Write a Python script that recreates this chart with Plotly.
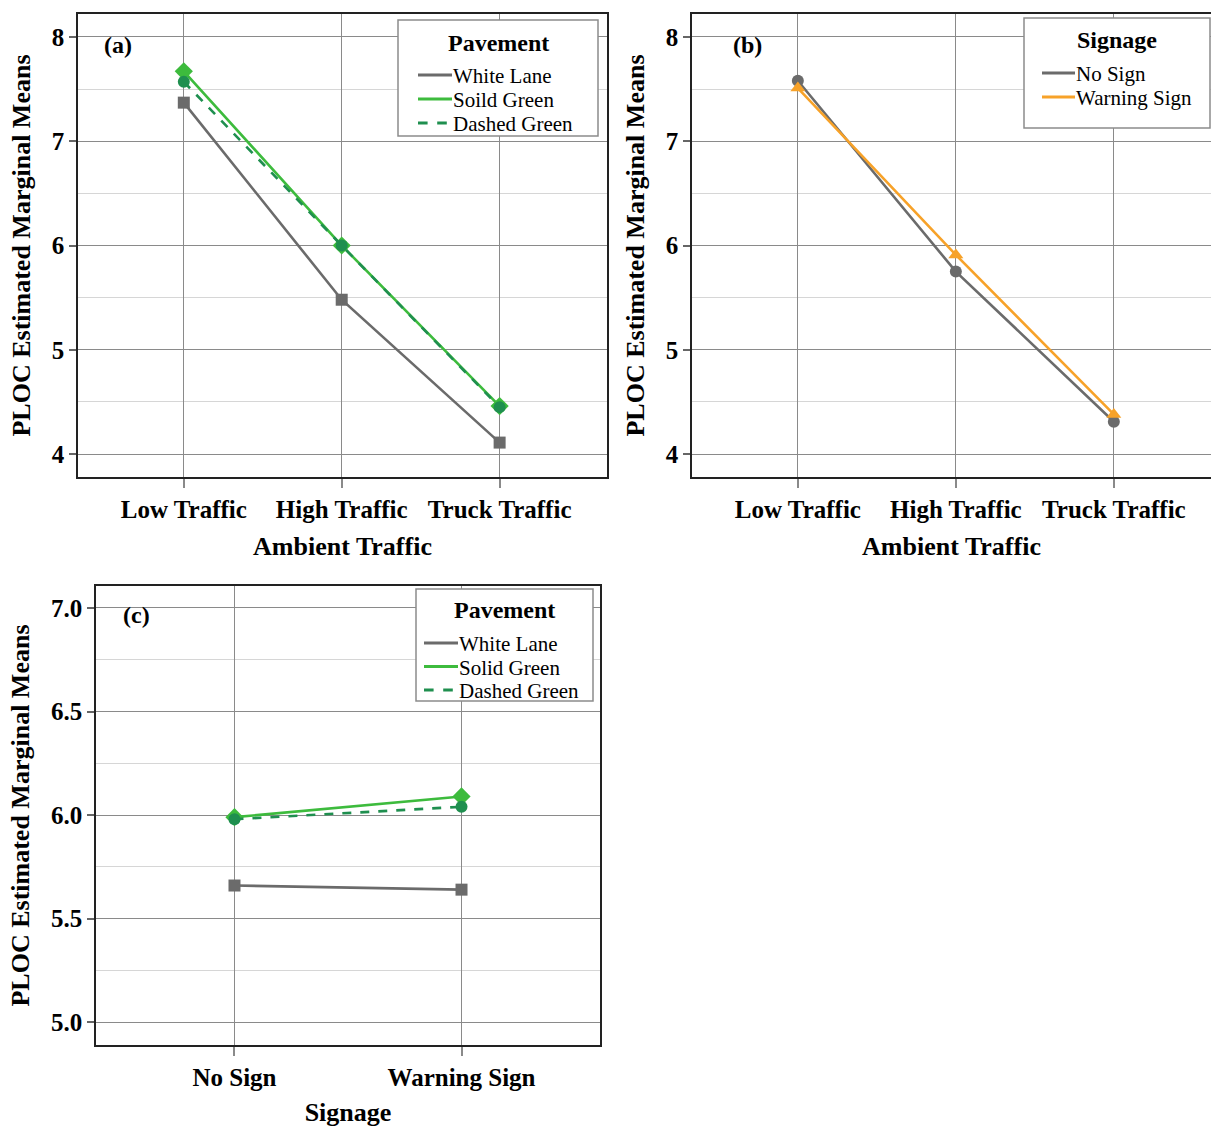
import plotly.graph_objects as go

# ---------------- data ----------------
traffic = ["Low Traffic", "High Traffic", "Truck Traffic"]
signage = ["No Sign", "Warning Sign"]

a_white = [7.37, 5.48, 4.11]
a_solid = [7.67, 6.00, 4.46]
a_dashed = [7.57, 6.00, 4.45]

b_nosign = [7.58, 5.75, 4.31]
b_warning = [7.51, 5.91, 4.38]

c_white = [5.66, 5.64]
c_solid = [5.99, 6.09]
c_dashed = [5.98, 6.04]

a_names = ["White Lane", "Soild Green", "Dashed Green"]
b_names = ["No Sign", "Warning Sign"]
c_names = ["White Lane", "Solid Green", "Dashed Green"]

a_ticks = [4, 5, 6, 7, 8]
c_ticks = [5.0, 5.5, 6.0, 6.5, 7.0]
c_ticklabels = ["5.0", "5.5", "6.0", "6.5", "7.0"]

# ---------------- style ----------------
GRAY = "#6b6b6b"
GREEN = "#3dbb3d"
DGREEN = "#1f8f4f"
ORANGE = "#f7a229"
FONT = "Liberation Serif"

W, H = 1211, 1127
def px(x): return x / W
def py(y): return 1 - y / H

fig = go.Figure()

def add_series(x, y, color, dash, symbol, msize, name, xa, ya):
    fig.add_trace(go.Scatter(
        x=x, y=y, mode="lines+markers", xaxis=xa, yaxis=ya, name=name,
        line=dict(color=color, width=2.6, dash=dash),
        marker=dict(symbol=symbol, size=msize, color=color),
        showlegend=False))

pav_styles = [(GRAY, "solid", "square", 12), (GREEN, "solid", "diamond", 14), (DGREEN, "dash", "circle", 12)]
sign_styles = [(GRAY, "solid", "circle", 12), (ORANGE, "solid", "triangle-up", 13)]

for vals, nm, st in zip([a_white, a_solid, a_dashed], a_names, pav_styles):
    add_series(traffic, vals, *st, nm, "x", "y")
for vals, nm, st in zip([b_nosign, b_warning], b_names, sign_styles):
    add_series(traffic, vals, *st, nm, "x2", "y2")
for vals, nm, st in zip([c_white, c_solid, c_dashed], c_names, pav_styles):
    add_series(signage, vals, *st, nm, "x3", "y3")

tickfont = dict(family=FONT, size=25, color="black", weight="bold")
titlefont = dict(family=FONT, size=26, color="black", weight="bold")

def xaxis(domain, rng, title, anchor):
    return dict(domain=domain, range=rng, anchor=anchor, type="category", automargin=False,
                showline=True, mirror=True, linecolor="#222", linewidth=1.5,
                showgrid=True, gridcolor="#8a8a8a", gridwidth=1.2,
                ticks="outside", ticklen=9, tickcolor="#8a8a8a", tickwidth=1.5,
                tickfont=tickfont, zeroline=False,
                title=dict(text=title, font=titlefont, standoff=15))

def yaxis(domain, rng, tickvals, ticktext, minor, anchor):
    return dict(domain=domain, range=rng, anchor=anchor, automargin=False,
                tickvals=tickvals, ticktext=ticktext,
                showline=True, mirror=True, linecolor="#222", linewidth=1.5,
                showgrid=True, gridcolor="#8a8a8a", gridwidth=1.2,
                minor=dict(dtick=minor, tick0=0, showgrid=True, gridcolor="#d6d6d6", gridwidth=1.2, ticks=""),
                ticks="outside", ticklen=7, tickcolor="#666", tickwidth=1.5,
                tickfont=tickfont, zeroline=False,
                title=dict(text="PLOC Estimated Marginal Means", font=titlefont, standoff=14))

fig.update_layout(
    width=W, height=H, margin=dict(l=0, r=0, t=0, b=0, autoexpand=False),
    paper_bgcolor="white", plot_bgcolor="white", showlegend=False,
    font=dict(family=FONT, color="black"),
    xaxis=xaxis([px(78), px(607)], [-0.67, 2.68], "Ambient Traffic", "y"),
    yaxis=yaxis([py(477), py(14)], [3.78, 8.22], a_ticks, [str(v) for v in a_ticks], 0.5, "x"),
    xaxis2=xaxis([px(692), 1.0], [-0.67, 2.615], "Ambient Traffic", "y2"),
    yaxis2=yaxis([py(477), py(14)], [3.78, 8.22], a_ticks, [str(v) for v in a_ticks], 0.5, "x2"),
    xaxis3=xaxis([px(96), px(600)], [-0.61, 1.61], "Signage", "y3"),
    yaxis3=yaxis([py(1045), py(586)], [4.89, 7.106], c_ticks, c_ticklabels, 0.25, "x3"),
)

# ---------------- legends (boxed, line samples only) ----------------
def draw_legend(box, title, title_y, names, styles, line_x0, line_x1, item_y0, step):
    x0, y0, x1, y1 = box
    fig.add_shape(type="rect", xref="paper", yref="paper",
                  x0=px(x0), x1=px(x1), y0=py(y1), y1=py(y0),
                  line=dict(color="#8c8c8c", width=1.5), fillcolor="white", layer="above")
    fig.add_annotation(text="<b>" + title + "</b>", xref="paper", yref="paper",
                       x=px((x0 + x1) / 2), y=py(title_y), xanchor="center", yanchor="middle",
                       showarrow=False, font=dict(family=FONT, size=24, color="black"))
    for i, (nm, st) in enumerate(zip(names, styles)):
        yy = item_y0 + i * step
        color, dash = st[0], st[1]
        fig.add_shape(type="line", xref="paper", yref="paper",
                      x0=px(line_x0), x1=px(line_x1), y0=py(yy), y1=py(yy),
                      line=dict(color=color, width=3.2, dash="dash" if dash == "dash" else "solid"),
                      layer="above")
        fig.add_annotation(text=nm, xref="paper", yref="paper",
                           x=px(line_x1 - 1), y=py(yy + 1), xanchor="left", yanchor="middle",
                           showarrow=False, font=dict(family=FONT, size=21, color="black"))

draw_legend((398, 20, 598, 136), "Pavement", 43, a_names, pav_styles, 418, 452, 75, 24)
draw_legend((1024, 18, 1210, 128), "Signage", 40, b_names, sign_styles, 1042, 1075, 73, 24)
draw_legend((416, 589, 593, 701), "Pavement", 610, c_names, pav_styles, 424, 458, 643, 23.5)

for txt, xr, yr, xx, yy in [("(a)", "x", "y", 0.045, 0.965),
                            ("(b)", "x2", "y2", 0.075, 0.965),
                            ("(c)", "x3", "y3", 0.05, 0.97)]:
    fig.add_annotation(text="<b>" + txt + "</b>", xref=xr + " domain", yref=yr + " domain",
                       x=xx, y=yy, xanchor="left", yanchor="top", showarrow=False,
                       font=dict(family=FONT, size=24, color="black"))

fig.write_html("out.html", config={"displayModeBar": False},
               post_script="document.body.style.margin='0';document.body.style.overflow='hidden';")
